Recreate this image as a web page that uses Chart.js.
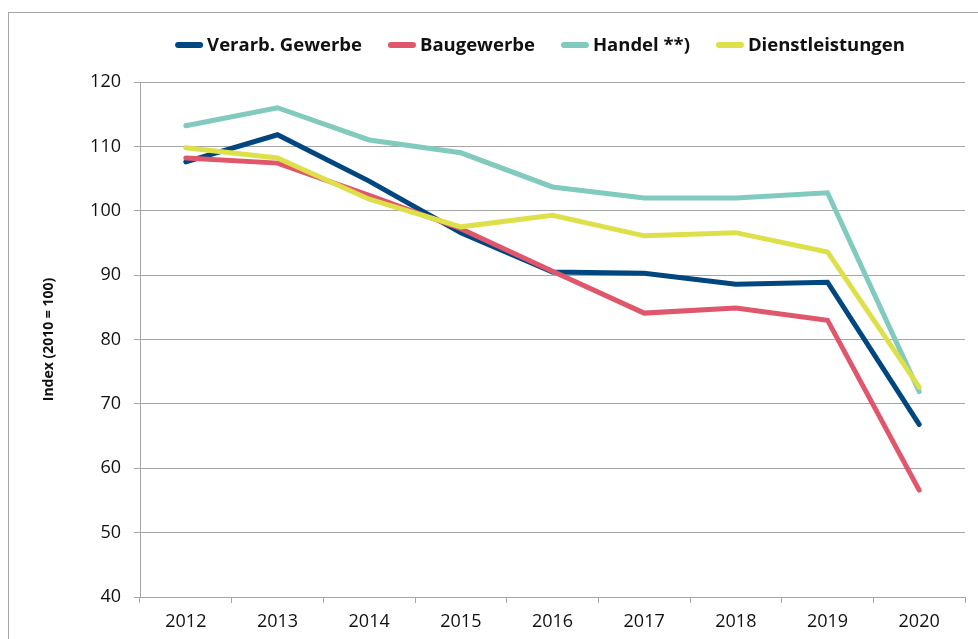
<!doctype html>
<html><head><meta charset="utf-8">
<script src="https://cdn.jsdelivr.net/npm/chart.js@4/dist/chart.umd.min.js"></script>
<style>
* { margin:0; padding:0; box-sizing:border-box; }
html,body { width:978px; height:639px; overflow:hidden; background:#fff; font-family:'Open Sans',sans-serif; }
.wrap { position:relative; width:978px; height:639px; }
.frame { position:absolute; left:8px; top:12px; width:1000px; height:700px; border:1px solid #a6a6a6; }
canvas { position:absolute; left:0; top:0; }
</style>
</head>
<body>
<div class="wrap">
  <div class="frame"></div>
  <canvas id="chart" width="978" height="639"></canvas>
</div>
<script>
const years = ['2012','2013','2014','2015','2016','2017','2018','2019','2020'];
const verarb = [107.6, 111.8, 104.6, 96.6, 90.5, 90.3, 88.6, 88.9, 66.8];
const bau = [108.2, 107.4, 102.4, 97.2, 90.6, 84.1, 84.9, 83.0, 56.6];
const handel = [113.2, 116.0, 111.0, 109.0, 103.7, 102.0, 102.0, 102.8, 71.9];
const dienst = [109.8, 108.2, 101.8, 97.5, 99.3, 96.1, 96.6, 93.6, 72.6];

const GRID = '#a6a6a6';

// legend drawn by hand so the small line samples sit tight to the text
const lineLegend = {
  id: 'lineLegend',
  afterDraw(chart) {
    const ctx = chart.ctx;
    const ds = chart.data.datasets;
    ctx.save();
    ctx.font = 'bold 18.5px "Open Sans"';
    ctx.textBaseline = 'middle';
    const sample = 28, gap = 4, space = 26;
    const widths = ds.map(d => sample + gap + ctx.measureText(d.label).width);
    const total = widths.reduce((a, b) => a + b, 0) + space * (ds.length - 1);
    let x = 540 - total / 2;
    const y = 45;
    ds.forEach((d, i) => {
      ctx.strokeStyle = d.borderColor;
      ctx.lineWidth = 6;
      ctx.lineCap = 'round';
      ctx.beginPath();
      ctx.moveTo(x + 3, y);
      ctx.lineTo(x + sample - 3, y);
      ctx.stroke();
      ctx.fillStyle = '#111';
      ctx.fillText(d.label, x + sample + gap, y + 1);
      x += widths[i] + space;
    });
    ctx.restore();
  }
};

function series(label, data, color, order) {
  return { label, data, borderColor: color, backgroundColor: color, borderWidth: 5,
    pointRadius: 0, pointHoverRadius: 0, tension: 0, borderCapStyle: 'round',
    borderJoinStyle: 'miter', fill: false, order };
}

new Chart(document.getElementById('chart'), {
  type: 'line',
  data: {
    labels: years,
    datasets: [
      series('Verarb. Gewerbe', verarb, '#00477f', 4),
      series('Baugewerbe', bau, '#e0566b', 3),
      series('Handel **)', handel, '#80cabe', 2),
      series('Dienstleistungen', dienst, '#dee04a', 1)
    ]
  },
  options: {
    responsive: false, animation: false,
    layout: { padding: { top: 82, right: 13, bottom: 0, left: 0 } },
    plugins: { legend: { display: false }, tooltip: { enabled: false } },
    scales: {
      x: {
        offset: true,
        grid: { offset: true, drawOnChartArea: false, drawTicks: true, tickLength: 6, color: GRID },
        border: { color: GRID },
        ticks: { font: { family: 'Open Sans', size: 18 }, color: '#111', padding: 8, maxRotation: 0 },
        afterFit(s) { s.height = 42; }
      },
      y: {
        min: 40, max: 120,
        grid: { color: GRID, tickLength: 6 },
        border: { color: GRID },
        ticks: { stepSize: 10, font: { family: 'Open Sans', size: 18 }, color: '#111', padding: 13 },
        title: { display: true, text: 'Index (2010 = 100)', color: '#111',
          font: { family: 'Open Sans', size: 14, weight: 'bold' }, padding: { top: 41, bottom: 0 } },
        afterFit(s) { s.width = 140; }
      }
    }
  },
  plugins: [lineLegend]
});
</script>
</body></html>
